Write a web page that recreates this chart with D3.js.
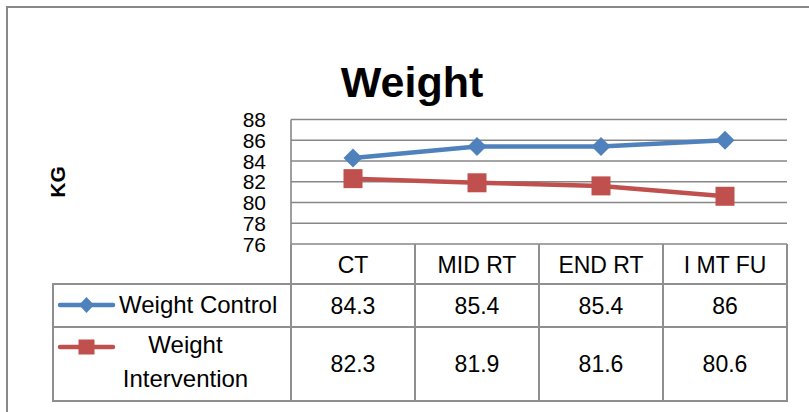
<!DOCTYPE html>
<html>
<head>
<meta charset="utf-8">
<script src="https://cdn.jsdelivr.net/npm/d3@7/dist/d3.min.js"></script>
<style>
  html, body { margin: 0; padding: 0; background: #fff; }
  svg { display: block; font-family: "Liberation Sans", Arial, sans-serif; }
</style>
</head>
<body>
<svg id="chart" width="809" height="412"></svg>
<script>
const categories = ["CT", "MID RT", "END RT", "I MT FU"];
const controlValues = [84.3, 85.4, 85.4, 86];
const interventionValues = [82.3, 81.9, 81.6, 80.6];
const yTicks = [76, 78, 80, 82, 84, 86, 88];
const seriesNames = ["Weight Control", "Weight Intervention"];
const titleText = "Weight";
const yAxisTitle = "KG";

const blue = "#4F81BD", red = "#C0504D";
const gridColor = "#878787", tableColor = "#8f8f8f";

const svg = d3.select("#chart");

// outer border (left and top only visible)
svg.append("path").attr("d", "M7,412 V7 H809")
  .attr("fill", "none").attr("stroke", "#888").attr("stroke-width", 2);

const plotLeft = 291, plotRight = 787, plotTop = 119.5, plotBottom = 244;
const x = d3.scaleBand().domain(categories).range([plotLeft, plotRight]);
const y = d3.scaleLinear().domain([76, 88]).range([plotBottom, plotTop]);

// title
svg.append("text").attr("x", 412).attr("y", 97).attr("text-anchor", "middle")
  .attr("font-size", 43).attr("font-weight", "bold").text(titleText);

// y-axis title
svg.append("text").attr("transform", "translate(65,182) rotate(-90)")
  .attr("text-anchor", "middle").attr("font-size", 21).attr("font-weight", "bold")
  .text(yAxisTitle);

// gridlines
svg.append("g").selectAll("line").data(yTicks).join("line")
  .attr("x1", plotLeft).attr("x2", plotRight)
  .attr("y1", d => y(d)).attr("y2", d => y(d))
  .attr("stroke", gridColor).attr("stroke-width", 1.6);

// left axis line
svg.append("line").attr("x1", plotLeft).attr("x2", plotLeft)
  .attr("y1", plotTop).attr("y2", plotBottom)
  .attr("stroke", gridColor).attr("stroke-width", 1.6);

// y tick labels
svg.append("g").selectAll("text").data(yTicks).join("text")
  .attr("x", 266).attr("y", d => y(d)).attr("dy", "0.36em")
  .attr("text-anchor", "end").attr("font-size", 21).text(d => d);

// series lines
const cx = c => x(c) + x.bandwidth() / 2;
const line = d3.line().x((d, i) => cx(categories[i])).y(d => y(d));

svg.append("path").datum(controlValues).attr("d", line)
  .attr("fill", "none").attr("stroke", blue).attr("stroke-width", 4.5)
  .attr("stroke-linejoin", "round");
svg.append("path").datum(interventionValues).attr("d", line)
  .attr("fill", "none").attr("stroke", red).attr("stroke-width", 4.5)
  .attr("stroke-linejoin", "round");

// markers
const diamond = (cxp, cyp, w, h) => `M${cxp},${cyp - h/2} L${cxp + w/2},${cyp} L${cxp},${cyp + h/2} L${cxp - w/2},${cyp} Z`;
svg.append("g").selectAll("path").data(controlValues).join("path")
  .attr("d", (d, i) => diamond(cx(categories[i]), y(d), 19, 19))
  .attr("fill", blue);
svg.append("g").selectAll("rect").data(interventionValues).join("rect")
  .attr("x", (d, i) => cx(categories[i]) - 9.5).attr("y", d => y(d) - 9.5)
  .attr("width", 19).attr("height", 19).attr("fill", red);

// data table
const tableLeft = 53, headerTop = 244, row1Top = 284, row2Top = 327, tableBottom = 401;
const tg = svg.append("g").attr("stroke", tableColor).attr("stroke-width", 2);
const colEdges = categories.map(c => x(c)).concat([plotRight]);
tg.selectAll("line.v").data(colEdges).join("line").attr("class", "v")
  .attr("x1", d => d).attr("x2", d => d).attr("y1", headerTop).attr("y2", tableBottom);
tg.append("line").attr("x1", tableLeft).attr("x2", tableLeft).attr("y1", row1Top).attr("y2", tableBottom);
[row1Top, row2Top, tableBottom].forEach(yy => {
  tg.append("line").attr("x1", tableLeft - 1).attr("x2", plotRight + 1).attr("y1", yy).attr("y2", yy);
});

// header text
svg.append("g").selectAll("text").data(categories).join("text")
  .attr("x", d => cx(d)).attr("y", 273).attr("text-anchor", "middle")
  .attr("font-size", 23).text(d => d);

// values
svg.append("g").selectAll("text").data(controlValues).join("text")
  .attr("x", (d, i) => cx(categories[i])).attr("y", 314).attr("text-anchor", "middle")
  .attr("font-size", 23).text(d => d);
svg.append("g").selectAll("text").data(interventionValues).join("text")
  .attr("x", (d, i) => cx(categories[i])).attr("y", 372).attr("text-anchor", "middle")
  .attr("font-size", 23).text(d => d);

// legend keys
svg.append("line").attr("x1", 60).attr("x2", 113).attr("y1", 305).attr("y2", 305)
  .attr("stroke", blue).attr("stroke-width", 4.5).attr("stroke-linecap", "round");
svg.append("path").attr("d", diamond(86.5, 305, 15, 16)).attr("fill", blue);
svg.append("line").attr("x1", 60).attr("x2", 113).attr("y1", 347).attr("y2", 347)
  .attr("stroke", red).attr("stroke-width", 4.5).attr("stroke-linecap", "round");
svg.append("rect").attr("x", 78.5).attr("y", 339.5).attr("width", 16).attr("height", 15).attr("fill", red);

// legend labels
svg.append("text").attr("x", 119).attr("y", 313).attr("font-size", 24).text(seriesNames[0]);
const parts = seriesNames[1].split(" ");
svg.append("text").attr("x", 185.5).attr("y", 353).attr("text-anchor", "middle")
  .attr("font-size", 24).text(parts[0]);
svg.append("text").attr("x", 185.5).attr("y", 387).attr("text-anchor", "middle")
  .attr("font-size", 24).text(parts[1]);
</script>
</body>
</html>
